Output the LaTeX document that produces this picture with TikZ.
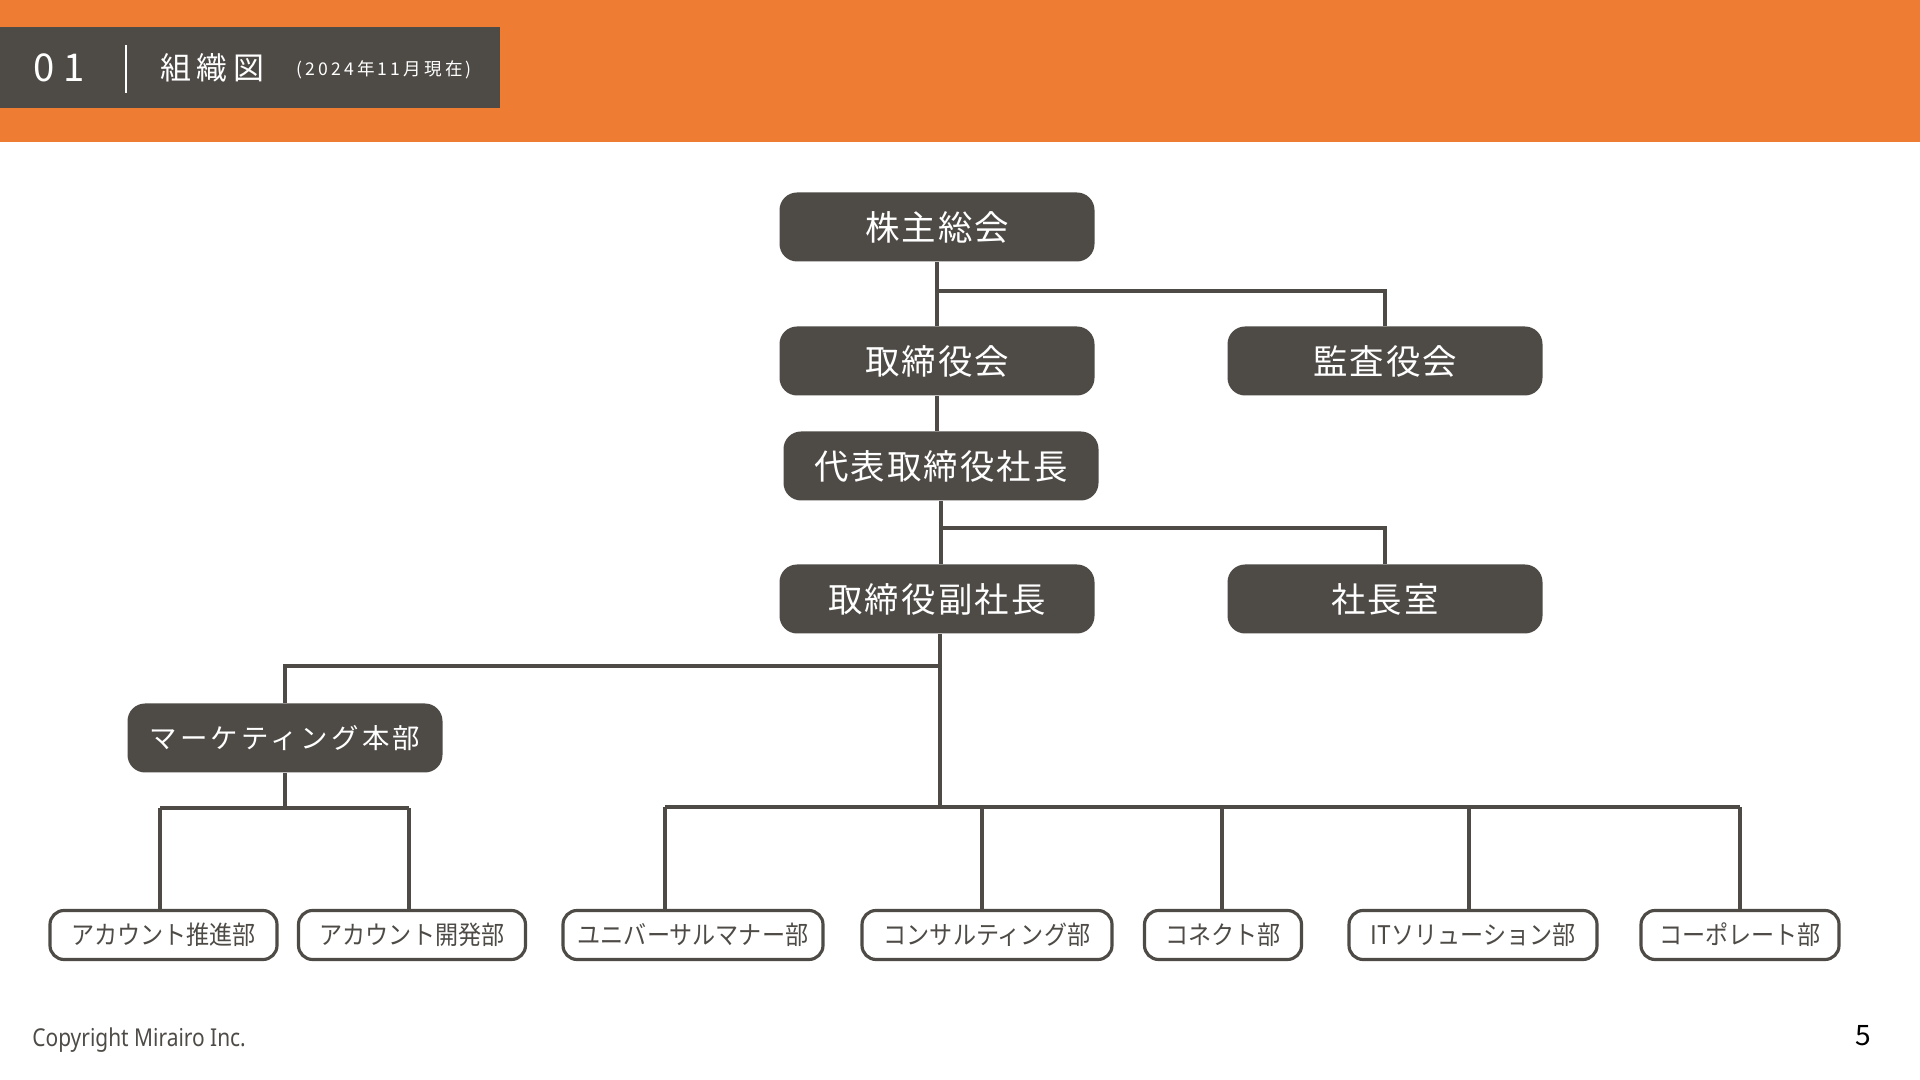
\documentclass[tikz,border=0pt]{standalone}
\usepackage{fontspec}
\setmainfont{Noto Sans CJK JP}
\newfontfamily\boxfont[LetterSpace=6]{Noto Sans CJK JP}
\newfontfamily\kanafont[LetterSpace=12]{Noto Sans CJK JP}
\newfontfamily\headfont[LetterSpace=18]{Noto Sans CJK JP}
\newfontfamily\deptfont[FakeStretch=0.9]{Noto Sans CJK JP}
\newfontfamily\footfont[FakeStretch=0.85]{Noto Sans}
\definecolor{slidegray}{RGB}{78,75,71}
\definecolor{slideorange}{RGB}{238,124,51}

\begin{document}
\begin{tikzpicture}[
    orgbox/.style={fill=slidegray, rounded corners=5pt,
        minimum width=3.15cm, minimum height=0.69cm, inner sep=0pt,
        text=white, font=\boxfont\fontsize{9.8}{11}\selectfont},
    deptbox/.style={draw=slidegray, line width=0.9pt, fill=white, rounded corners=4pt,
        minimum height=0.49cm, inner sep=0pt,
        text=slidegray, font=\deptfont\fontsize{7.3}{9}\selectfont},
    link/.style={draw=slidegray, line width=0.9pt}
]
\useasboundingbox (0,0) rectangle (19.2,10.8);

% header band
\fill[slideorange] (0,9.38) rectangle (19.2,10.8);
\fill[slidegray] (0,9.72) rectangle (5.0,10.53);
\node[text=white, font=\fontsize{10.9}{12}\selectfont] (secno) at (0.59,10.12) {0\kern2.5pt1};
\draw[white, line width=0.6pt] (1.26,9.87) -- (1.26,10.35);
\node[text=white, font=\headfont\fontsize{8.8}{10}\selectfont] (title) at (2.12,10.12) {組織図};
\node[text=white, font=\headfont\fontsize{5.0}{6}\selectfont] (asof) at (3.84,10.10) {(2024年11月現在)};

% upper levels
\node[orgbox] (ga) at (9.37,8.53) {株主総会};
\node[orgbox] (board) at (9.37,7.19) {取締役会};
\node[orgbox] (audit) at (13.85,7.19) {監査役会};
\node[orgbox] (ceo) at (9.41,6.14) {代表取締役社長};
\node[orgbox] (vp) at (9.37,4.81) {取締役副社長};
\node[orgbox] (office) at (13.85,4.81) {社長室};
\node[orgbox, font=\kanafont\fontsize{7.8}{9}\selectfont] (mkt) at (2.85,3.42) {マーケティング本部};

% departments
\node[deptbox, minimum width=2.27cm] (acc1) at (1.635,1.45) {アカウント推進部};
\node[deptbox, minimum width=2.27cm] (acc2) at (4.12,1.45) {アカウント開発部};
\node[deptbox, minimum width=2.60cm] (univ) at (6.93,1.45) {ユニバーサルマナー部};
\node[deptbox, minimum width=2.50cm] (cons) at (9.87,1.45) {コンサルティング部};
\node[deptbox, minimum width=1.57cm] (conn) at (12.23,1.45) {コネクト部};
\node[deptbox, minimum width=2.48cm] (it) at (14.73,1.45) {ITソリューション部};
\node[deptbox, minimum width=1.98cm] (corp) at (17.40,1.45) {コーポレート部};

% junctions
\coordinate (j1) at (9.37,7.89);
\coordinate (j2) at (9.40,5.52);
\coordinate (j3) at (9.40,4.14);
\coordinate (busL) at (6.65,2.73);
\coordinate (busR) at (17.40,2.73);
\coordinate (mbusL) at (1.60,2.72);
\coordinate (mbusR) at (4.09,2.72);

\draw[link] (ga.south) -- (board.north);
\draw[link] (j1) -| (audit.north);
\draw[link] (board.south) -- (board.south |- ceo.north);
\draw[link] (ceo.south) -- (ceo.south |- vp.north);
\draw[link] (j2) -| (office.north);
\draw[link] (vp.south -| j3) -- (j3 |- busL);
\draw[link] (j3) -| (mkt.north);
\draw[link] (busL) -- (busR);
\foreach \d/\x in {univ/6.65, cons/9.82, conn/12.22, it/14.69, corp/17.40} {
    \coordinate (t\d) at (\x,2.73);
    \draw[link] (t\d) -- (t\d |- \d.north);
}
\draw[link] (mkt.south) -- (mkt.south |- mbusL);
\draw[link] (mbusL) -- (mbusR);
\draw[link] (mbusL) -- (mbusL |- acc1.north);
\draw[link] (mbusR) -- (mbusR |- acc2.north);

% footer
\node[anchor=west, text=slidegray, font=\footfont\fontsize{7}{8}\selectfont] (copy) at (0.20,0.40) {Copyright Mirairo Inc.};
\node[text=black, font=\fontsize{8}{10}\selectfont] (pageno) at (18.63,0.44) {5};
\end{tikzpicture}
\end{document}
